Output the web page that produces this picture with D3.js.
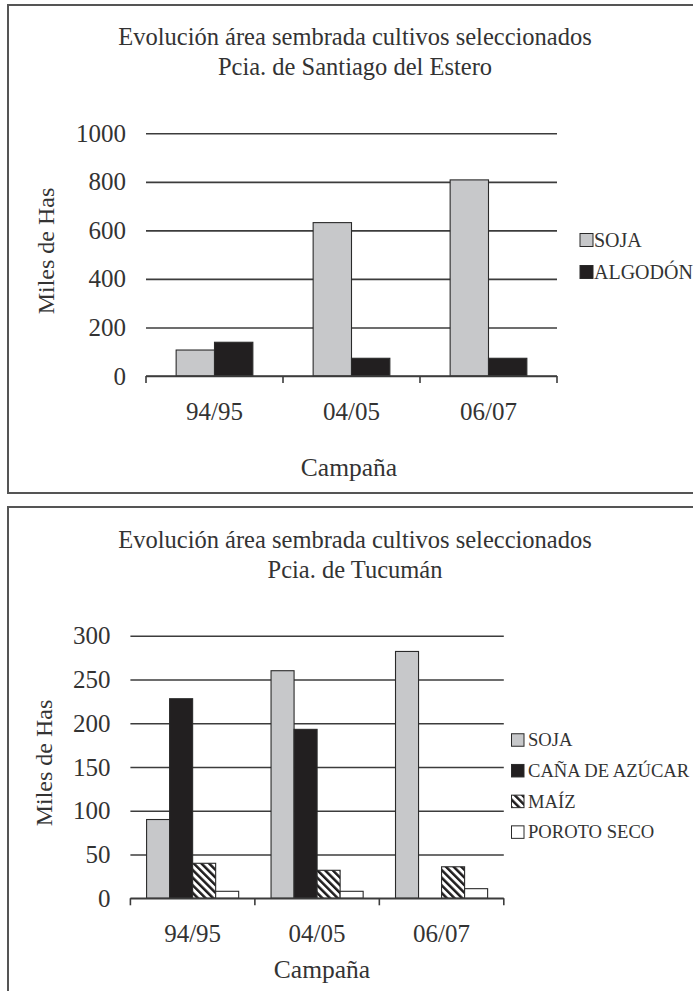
<!DOCTYPE html>
<html>
<head>
<meta charset="utf-8">
<script src="https://cdn.jsdelivr.net/npm/d3@7"></script>
<style>
  body { margin: 0; background: #fff; }
  svg { display: block; font-family: "Liberation Serif", serif; }
</style>
</head>
<body>
<div id="chart"></div>
<script>
// campaigns shared by both charts
var campaigns = ["94/95", "04/05", "06/07"];

// Santiago del Estero
var sdeSeries = ["SOJA", "ALGODÓN"];
var sdeSoja = [107, 632, 808];
var sdeAlgodon = [139, 73, 73];
var sdeTicks = [0, 200, 400, 600, 800, 1000];

// Tucumán
var tucSeries = ["SOJA", "CAÑA DE AZÚCAR", "MAÍZ", "POROTO SECO"];
var tucSoja = [90, 260, 282];
var tucCana = [228, 193, 0];
var tucMaiz = [40, 32, 36];
var tucPoroto = [8, 8, 11];
var tucTicks = [0, 50, 100, 150, 200, 250, 300];

var W = 693, H = 991;
var ink = "#333";

var svg = d3.select("#chart").append("svg").attr("width", W).attr("height", H);

// hatch for MAÍZ
var defs = svg.append("defs");
var pat = defs.append("pattern")
    .attr("id", "hatch")
    .attr("patternUnits", "userSpaceOnUse")
    .attr("width", 5.4).attr("height", 5.4)
    .attr("patternTransform", "rotate(-45)");
pat.append("rect").attr("width", 5.4).attr("height", 5.4).attr("fill", "#fff");
pat.append("rect").attr("width", 2.5).attr("height", 5.4).attr("fill", "#1e1c1d");

var fills = {
    "SOJA": "#c7c8ca",
    "ALGODÓN": "#221f20",
    "CAÑA DE AZÚCAR": "#221f20",
    "MAÍZ": "url(#hatch)",
    "POROTO SECO": "#fff"
};

function drawChart(c) {
    var g = svg.append("g");

    // frame
    g.append("rect")
        .attr("x", c.box[0]).attr("y", c.box[1])
        .attr("width", c.box[2]).attr("height", c.box[3])
        .attr("fill", "none").attr("stroke", "#555").attr("stroke-width", 2);

    // title
    c.title.forEach(function(t, i) {
        g.append("text")
            .attr("x", c.titleX).attr("y", c.titleY + i * 30)
            .attr("text-anchor", "middle")
            .attr("font-size", 24.5).attr("fill", ink)
            .text(t);
    });

    var x = d3.scaleBand().domain(campaigns).range([c.left, c.right]);
    var y = d3.scaleLinear().domain([0, d3.max(c.ticks)]).range([c.bottom, c.top]);
    var bw = x.bandwidth();
    var xs = d3.scaleBand().domain(c.series)
        .range([bw * c.groupPad, bw * (1 - c.groupPad)]);

    // gridlines + y labels
    var yAxis = g.append("g")
        .attr("transform", "translate(" + c.left + ",0)")
        .call(d3.axisLeft(y).tickValues(c.ticks).tickFormat(d3.format("d"))
            .tickSize(-(c.right - c.left)).tickPadding(20));
    yAxis.attr("font-family", null);
    yAxis.select(".domain").remove();
    yAxis.selectAll(".tick line").attr("stroke", "#3c3c3c").attr("stroke-width", 1.6);
    yAxis.selectAll(".tick text").attr("font-size", 25).attr("fill", ink);

    // bars
    var rows = campaigns.map(function(cmp, i) {
        return c.series.map(function(s, j) {
            return { cat: cmp, key: s, value: c.values[j][i] };
        });
    });

    var grp = g.selectAll("g.grp").data(rows).enter().append("g")
        .attr("class", "grp")
        .attr("transform", function(d) { return "translate(" + x(d[0].cat) + ",0)"; });

    grp.selectAll("rect").data(function(d) { return d.filter(function(e) { return e.value > 0; }); })
        .enter().append("rect")
        .attr("x", function(d) { return xs(d.key); })
        .attr("y", function(d) { return y(d.value); })
        .attr("width", xs.bandwidth())
        .attr("height", function(d) { return y(0) - y(d.value); })
        .attr("fill", function(d) { return fills[d.key]; })
        .attr("stroke", "#2a2a2a").attr("stroke-width", 1.1);

    // x axis line, ticks at band edges
    g.append("line")
        .attr("x1", c.left).attr("x2", c.right)
        .attr("y1", y(0)).attr("y2", y(0))
        .attr("stroke", "#3c3c3c").attr("stroke-width", 1.6);
    var edges = campaigns.map(function(d) { return x(d); }).concat([c.right]);
    g.selectAll("line.edge").data(edges).enter().append("line")
        .attr("class", "edge")
        .attr("x1", function(d) { return d; }).attr("x2", function(d) { return d; })
        .attr("y1", y(0)).attr("y2", y(0) + 7)
        .attr("stroke", "#3c3c3c").attr("stroke-width", 1.6);

    g.selectAll("text.cat").data(campaigns).enter().append("text")
        .attr("class", "cat")
        .attr("x", function(d) { return x(d) + bw / 2; })
        .attr("y", y(0) + 44)
        .attr("text-anchor", "middle")
        .attr("font-size", 25).attr("fill", ink)
        .text(function(d) { return d; });

    // axis titles
    g.append("text")
        .attr("transform", "translate(" + c.yLabelX + "," + c.yLabelY + ") rotate(-90)")
        .attr("text-anchor", "middle")
        .attr("font-size", 24).attr("fill", ink)
        .text("Miles de Has");
    g.append("text")
        .attr("x", c.xLabelX).attr("y", c.xLabelY)
        .attr("text-anchor", "middle")
        .attr("font-size", 25.5).attr("fill", ink)
        .text("Campaña");

    // legend
    var leg = g.selectAll("g.leg").data(c.series).enter().append("g")
        .attr("class", "leg")
        .attr("transform", function(d, i) { return "translate(" + c.legX + "," + (c.legY + i * c.legStep) + ")"; });
    leg.append("rect")
        .attr("x", 0).attr("y", -c.legBox / 2).attr("width", c.legBox).attr("height", c.legBox)
        .attr("fill", function(d) { return fills[d]; })
        .attr("stroke", "#2a2a2a").attr("stroke-width", 1);
    leg.append("text")
        .attr("x", c.legTextDx).attr("y", c.legFont * 0.34)
        .attr("font-size", c.legFont).attr("fill", ink)
        .text(function(d) { return d; });
}

drawChart({
    box: [8, 5, 700, 488],
    title: ["Evolución área sembrada cultivos seleccionados", "Pcia. de Santiago del Estero"],
    titleX: 355, titleY: 45,
    left: 146, right: 557, top: 133.3, bottom: 376,
    ticks: sdeTicks,
    series: sdeSeries,
    values: [sdeSoja, sdeAlgodon],
    groupPad: 0.22,
    yLabelX: 54, yLabelY: 251,
    xLabelX: 349, xLabelY: 476,
    legX: 580, legY: 240, legStep: 32, legTextDx: 14, legBox: 13, legFont: 20
});

drawChart({
    box: [8, 507, 700, 500],
    title: ["Evolución área sembrada cultivos seleccionados", "Pcia. de Tucumán"],
    titleX: 355, titleY: 548,
    left: 130.4, right: 503.8, top: 635.7, bottom: 898.3,
    ticks: tucTicks,
    series: tucSeries,
    values: [tucSoja, tucCana, tucMaiz, tucPoroto],
    groupPad: 0.13,
    yLabelX: 52, yLabelY: 763,
    xLabelX: 322, xLabelY: 978,
    legX: 511.5, legY: 740, legStep: 30.7, legTextDx: 16.5, legBox: 12.5, legFont: 18.6
});
</script>
</body>
</html>
